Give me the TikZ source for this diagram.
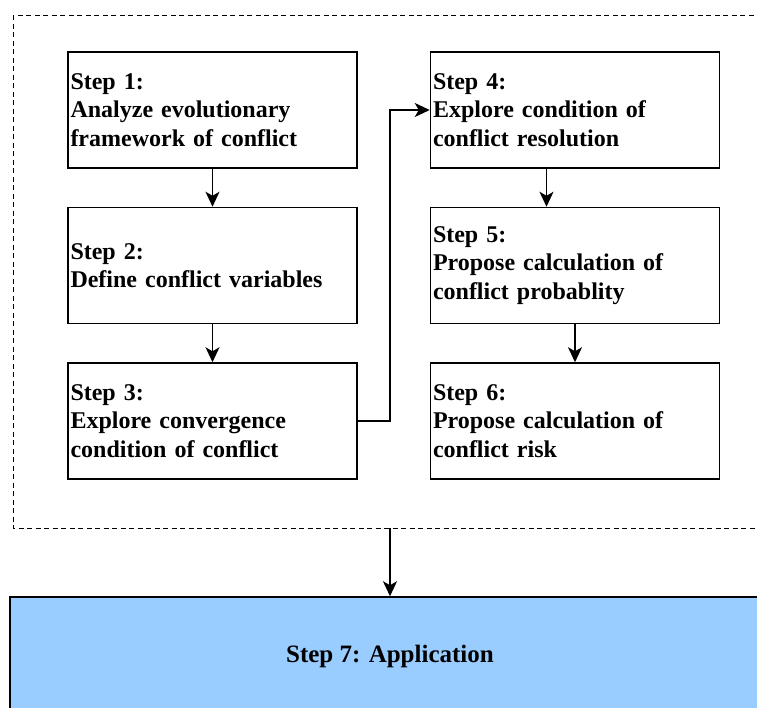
\documentclass[tikz,border=0pt]{standalone}
\usepackage{fontspec}
\setmainfont{Liberation Serif}
\usepackage{xcolor}
\usetikzlibrary{arrows.meta,positioning}
\newcommand{\Bw}{289}
\newcommand{\Bh}{116}
\newcommand{\Gap}{38}
\definecolor{appblue}{RGB}{153,204,255}
\tikzset{
  stepbox/.style = {draw=black, line width=1.5pt, minimum width=\Bw pt, minimum height=\Bh pt,
                    text width=284pt, inner xsep=2.5pt, align=left,
                    font=\fontsize{24}{28.5}\selectfont\bfseries},
  appbox/.style  = {draw=black, line width=1.5pt, fill=appblue, minimum width=760pt,
                    minimum height=118pt, font=\fontsize{25}{30}\selectfont\bfseries},
  frame/.style   = {draw=black, line width=1pt, dash pattern=on 5pt off 3.5pt},
  flow/.style    = {-{Stealth[length=15pt,width=14pt,inset=4pt]}, line width=1.5pt}
}
\begin{document}
\begin{tikzpicture}[x=1pt,y=-1pt]
  \useasboundingbox (0,0) rectangle (757,707);
  \clip (0,0) rectangle (757,707);
  % left column
  \node[stepbox] (s1) at (212.5,110) {Step 1:\\Analyze evolutionary\\framework of conflict};
  \node[stepbox, below=\Gap pt of s1] (s2) {Step 2:\\Define conflict variables};
  \node[stepbox, below=\Gap pt of s2] (s3) {Step 3:\\Explore convergence\\condition of conflict};
  % right column
  \node[stepbox, right=72pt of s1] (s4) {Step 4:\\Explore condition of\\conflict resolution};
  \node[stepbox, below=\Gap pt of s4] (s5) {Step 5:\\Propose calculation of\\conflict probablity};
  \node[stepbox, below=\Gap pt of s5] (s6) {Step 6:\\Propose calculation of\\conflict risk};
  % dashed frame round steps 1--6
  \draw[frame] (13,15) rectangle (767,528);
  \coordinate (fb) at (390,528);
  \node[appbox] (s7) at (390,656) {Step 7: Application};
  % connectors
  \draw[flow] (s1) -- (s2);
  \draw[flow] (s2) -- (s3);
  \draw[flow] (s3.east) -- ++(32,0) |- (s4.west);
  \draw[flow] ([xshift=-28.5pt]s4.south) -- ([xshift=-28.5pt]s5.north);
  \draw[flow] (s5) -- (s6);
  \draw[flow] (fb) -- (s7.north);
\end{tikzpicture}
\end{document}
